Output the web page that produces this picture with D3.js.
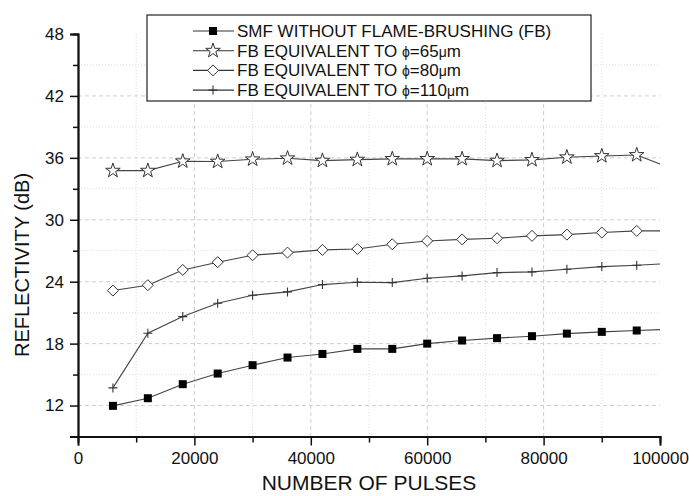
<!DOCTYPE html>
<html lang="en">
<head>
  <meta charset="utf-8">
  <title>Reflectivity vs pulses</title>
  <script type="text/javascript" src="https://d3js.org/d3.v7.min.js"></script>
  <style type="text/css">
    body { margin: 0; background: #fff; }
    text { font-family: "Liberation Sans", Arial, sans-serif; fill: #111; }
    .serieLine { fill: none; stroke: #444; stroke-width: 1.1; }
    .gridMajor { stroke: #cfcfcf; stroke-width: 1; stroke-dasharray: 4,3; }
    .gridMinor { stroke: #dedede; stroke-width: 1; stroke-dasharray: 1,2; }
  </style>
</head>
<body>
  <script type="text/javascript">
  // pulses (x); the last entry is where the curves meet the right frame (no marker)
  var pulses = [6000, 12000, 18000, 24000, 30000, 36000, 42000, 48000, 54000,
                60000, 66000, 72000, 78000, 84000, 90000, 96000, 100000];

  var smfNoFB = [11.97, 12.71, 14.07, 15.10, 15.91, 16.65, 17.00, 17.49, 17.49,
                 18.00, 18.30, 18.53, 18.72, 18.97, 19.14, 19.27, 19.36];
  var fb65 = [34.76, 34.76, 35.67, 35.64, 35.86, 35.96, 35.73, 35.83, 35.90,
              35.90, 35.90, 35.73, 35.80, 36.06, 36.18, 36.28, 35.40];
  var fb80 = [23.14, 23.66, 25.14, 25.89, 26.56, 26.82, 27.08, 27.17, 27.63,
              27.95, 28.10, 28.21, 28.44, 28.56, 28.76, 28.92, 28.92];
  var fb110 = [13.71, 19.01, 20.62, 21.91, 22.69, 23.01, 23.72, 23.95, 23.91,
               24.33, 24.56, 24.88, 24.95, 25.21, 25.46, 25.60, 25.72];

  var legendLabels = [
    ["SMF WITHOUT FLAME-BRUSHING (FB)"],
    ["FB EQUIVALENT TO ", "ϕ", "=65", "μ", "m"],
    ["FB EQUIVALENT TO ", "ϕ", "=80", "μ", "m"],
    ["FB EQUIVALENT TO ", "ϕ", "=110", "μ", "m"]
  ];
  var markerKinds = ["square", "star", "diamond", "plus"];

  var xTicks = [0, 20000, 40000, 60000, 80000, 100000];
  var yTicks = [12, 18, 24, 30, 36, 42, 48];

  var w = 689, h = 496;

  var svg = d3.select("body").append("svg")
    .attr("width", w).attr("height", h);

  var xScale = d3.scaleLinear().domain([0, 100000]).range([78, 660]);
  var yScale = d3.scaleLinear().domain([9, 48]).range([436.5, 34]);

  // grid
  var xMinor = d3.range(10000, 100000, 20000);
  var yMinor = d3.range(15, 48, 6);
  svg.selectAll(".vMinor").data(xMinor).enter().append("line")
    .attr("class", "gridMinor")
    .attr("x1", xScale).attr("x2", xScale)
    .attr("y1", yScale(48)).attr("y2", yScale(9));
  svg.selectAll(".vMajor").data(xTicks.slice(1, 5)).enter().append("line")
    .attr("class", "gridMajor")
    .attr("x1", xScale).attr("x2", xScale)
    .attr("y1", yScale(48)).attr("y2", yScale(9));
  svg.selectAll(".hMinor").data(yMinor).enter().append("line")
    .attr("class", "gridMinor")
    .attr("x1", xScale(0)).attr("x2", xScale(100000))
    .attr("y1", yScale).attr("y2", yScale);
  svg.selectAll(".hMajor").data(yTicks.slice(0, 6)).enter().append("line")
    .attr("class", "gridMajor")
    .attr("x1", xScale(0)).attr("x2", xScale(100000))
    .attr("y1", yScale).attr("y2", yScale);

  // marker drawing
  var starPath = d3.symbol().type(d3.symbolStar).size(66)();
  var drawMarker = function(g, kind) {
    if (kind == "square") {
      g.append("rect").attr("x", -4).attr("y", -4).attr("width", 8).attr("height", 8)
        .attr("fill", "#000");
    } else if (kind == "star") {
      g.append("path").attr("d", starPath)
        .attr("fill", "#fff").attr("stroke", "#333").attr("stroke-width", 1);
    } else if (kind == "diamond") {
      g.append("path").attr("d", "M0,-5.5L5.5,0L0,5.5L-5.5,0Z")
        .attr("fill", "#fff").attr("stroke", "#333").attr("stroke-width", 1);
    } else {
      g.append("path").attr("d", "M-4.5,0H4.5M0,-4.5V4.5")
        .attr("stroke", "#333").attr("stroke-width", 1.1);
    }
  };

  var allSeries = [smfNoFB, fb65, fb80, fb110];

  var line = d3.line()
    .x(function(d) { return xScale(d[0]); })
    .y(function(d) { return yScale(d[1]); });

  allSeries.forEach(function(vals, i) {
    var pts = pulses.map(function(p, j) { return [p, vals[j]]; });
    svg.append("path").datum(pts).attr("class", "serieLine").attr("d", line);
    svg.selectAll(".m" + i).data(pts.slice(0, pts.length - 1)).enter().append("g")
      .attr("transform", function(d) {
        return "translate(" + xScale(d[0]) + "," + yScale(d[1]) + ")";
      })
      .each(function() { drawMarker(d3.select(this), markerKinds[i]); });
  });

  // axes
  var xAxis = d3.axisBottom(xScale).tickValues(xTicks).tickSize(9).tickPadding(6)
    .tickFormat(d3.format("d"));
  var xAxisMinor = d3.axisBottom(xScale).tickValues(xMinor).tickSize(6).tickFormat("");
  var yAxis = d3.axisLeft(yScale).tickValues(yTicks).tickSize(8).tickPadding(6);
  var yAxisMinor = d3.axisLeft(yScale).tickValues(yMinor).tickSize(5).tickFormat("");

  [xAxis, xAxisMinor].forEach(function(ax) {
    svg.append("g").attr("class", "axis")
      .attr("transform", "translate(0," + yScale(9) + ")")
      .call(ax);
  });
  [yAxis, yAxisMinor].forEach(function(ax) {
    svg.append("g").attr("class", "axis")
      .attr("transform", "translate(" + xScale(0) + ",0)")
      .call(ax);
  });
  svg.selectAll(".axis path").attr("stroke", "#111").attr("stroke-width", 1.8);
  svg.selectAll(".axis line").attr("stroke", "#111").attr("stroke-width", 1.5);
  svg.selectAll(".axis text")
    .style("font-family", "Liberation Sans, Arial, sans-serif")
    .style("font-size", "17px").attr("fill", "#111");

  // axis titles
  svg.append("text")
    .attr("x", (xScale(0) + xScale(100000)) / 2).attr("y", 490)
    .attr("text-anchor", "middle").style("font-size", "21px")
    .text("NUMBER OF PULSES");
  svg.append("text")
    .attr("transform", "translate(29,265) rotate(-90)")
    .attr("text-anchor", "middle").style("font-size", "20px")
    .text("REFLECTIVITY (dB)");

  // legend
  var legend = svg.append("g");
  legend.append("rect")
    .attr("x", 147).attr("y", 15).attr("width", 444).attr("height", 86)
    .attr("fill", "#fff").attr("stroke", "#222").attr("stroke-width", 1.2);
  legendLabels.forEach(function(parts, i) {
    var cy = 31 + i * 19.7;
    var row = legend.append("g");
    row.append("line").attr("x1", 193).attr("x2", 234).attr("y1", cy).attr("y2", cy)
      .attr("stroke", "#333").attr("stroke-width", 1.1);
    var mg = row.append("g").attr("transform", "translate(213," + cy + ")");
    drawMarker(mg, markerKinds[i]);
    var t = row.append("text").attr("x", 237).attr("y", cy + 6).style("font-size", "17px");
    parts.forEach(function(p) {
      var greek = (p == "ϕ" || p == "μ");
      t.append("tspan").style("font-size", greek ? "14px" : "17px").text(p);
    });
  });
  </script>
</body>
</html>
